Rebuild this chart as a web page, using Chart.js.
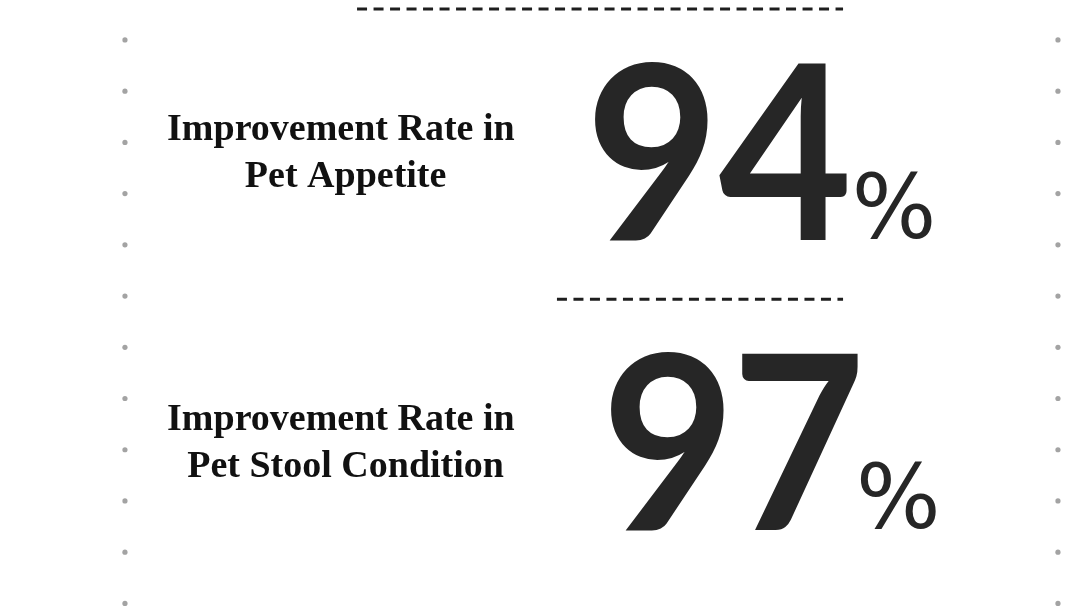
<!DOCTYPE html>
<html><head><meta charset="utf-8">
<script src="https://cdn.jsdelivr.net/npm/chart.js@4.4.1/dist/chart.umd.min.js"></script>
<style>html,body{margin:0;padding:0;background:#fff;}canvas{display:block;}</style>
</head><body>
<canvas id="c" width="1080" height="608"></canvas>
<script>
// ---- data ----
const categories = [["Improvement Rate in ", "Pet Appetite"], ["Improvement Rate in ", "Pet Stool Condition"]];
const values = [94, 97];
const valueSuffix = "%";
const dotRows = [0, 1, 2, 3, 4, 5, 6, 7, 8, 9, 10, 11];

// ---- layout (percent of width on x, dot-row units on y) ----
const layout = {
  dotCols: [11.57, 97.96],
  catRows: [3.906, 9.57],
  labelX: 32.0,
  numberX: [55.1, 56.57],
  digitSpacing: [-1, -4],
  digitScaleX: 0.95,
  suffixGap: [9, 2],
  dividers: [
    { row: -0.605, from: 33.06, to: 78.06 },
    { row: 5.06, from: 51.57, to: 78.06 }
  ]
};

const digitFont = '700 243px Lato, Inter, sans-serif';
const suffixFont = '89px "DejaVu Sans", sans-serif';
const labelFont = 'bold 38px "Liberation Serif", serif';

const dotStyle = { pointRadius: 2.6, pointBackgroundColor: '#a3a3a3', pointBorderWidth: 0, showLine: false, clip: false };

const datasets = [];
layout.dotCols.forEach(col => {
  datasets.push(Object.assign({ data: dotRows.map(r => ({ x: col, y: r })) }, dotStyle));
});
layout.dividers.forEach(d => {
  datasets.push({
    data: [{ x: d.from, y: d.row }, { x: d.to, y: d.row }],
    showLine: true, pointRadius: 0, borderColor: '#1e1e1e', borderWidth: 3,
    borderDash: [10, 6.5], clip: false
  });
});

const textPlugin = {
  id: 'statText',
  afterDatasetsDraw(chart) {
    const ctx = chart.ctx;
    const xs = chart.scales.x, ys = chart.scales.y;
    categories.forEach((lines, i) => {
      const base = ys.getPixelForValue(layout.catRows[i]);
      // label
      ctx.save();
      ctx.fillStyle = '#111';
      ctx.font = labelFont;
      ctx.textAlign = 'center';
      ctx.textBaseline = 'alphabetic';
      const lx = xs.getPixelForValue(layout.labelX);
      ctx.fillText(lines[0], lx, base - 100);
      ctx.fillText(lines[1], lx, base - 53);
      ctx.restore();
      // number
      ctx.save();
      ctx.fillStyle = '#262626';
      ctx.font = digitFont;
      ctx.letterSpacing = layout.digitSpacing[i] + 'px';
      ctx.textAlign = 'left';
      ctx.textBaseline = 'alphabetic';
      const txt = String(values[i]);
      const m = ctx.measureText(txt);
      const sx = layout.digitScaleX;
      const nx = xs.getPixelForValue(layout.numberX[i]) + m.actualBoundingBoxLeft * sx;
      ctx.save();
      ctx.translate(nx, base);
      ctx.scale(sx, 1);
      ctx.fillText(txt, 0, 0);
      ctx.restore();
      const right = nx + m.actualBoundingBoxRight * sx;
      ctx.letterSpacing = '0px';
      ctx.font = suffixFont;
      const ms = ctx.measureText(valueSuffix);
      ctx.fillText(valueSuffix, right + layout.suffixGap[i] + ms.actualBoundingBoxLeft, base - 2);
      ctx.restore();
    });
  }
};

function draw() {
  new Chart(document.getElementById('c'), {
    type: 'scatter',
    data: { datasets },
    options: {
      responsive: false,
      animation: false,
      layout: { padding: 0, autoPadding: false },
      plugins: { legend: { display: false }, tooltip: { enabled: false } },
      scales: {
        x: { type: 'linear', min: 0, max: 100, display: false },
        y: { type: 'linear', min: -0.78, max: 11.09, reverse: true, display: false }
      }
    },
    plugins: [textPlugin]
  });
}
Promise.all([
  document.fonts.load(digitFont, '0123456789'),
  document.fonts.load(suffixFont, '%'),
  document.fonts.load(labelFont, 'Improvement')
]).then(draw, draw);
</script>
</body></html>
